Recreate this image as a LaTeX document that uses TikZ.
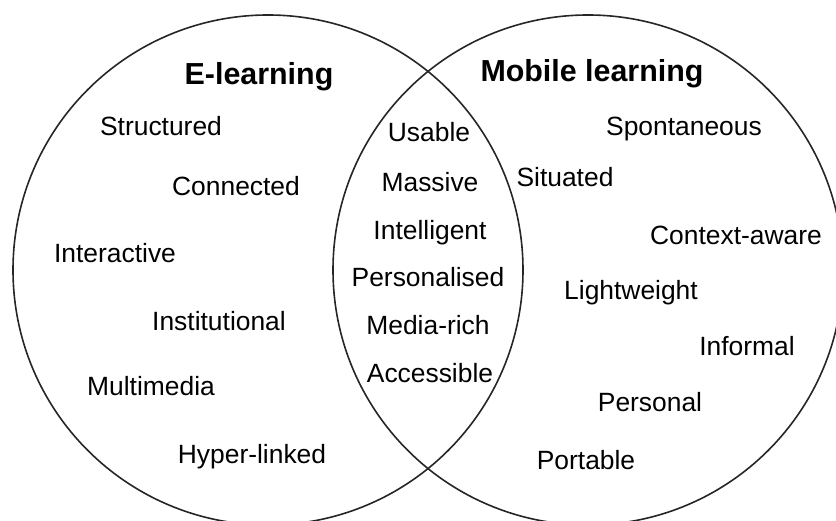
\documentclass[tikz,border=0pt]{standalone}
\usepackage{fontspec}
\setmainfont{Liberation Sans}
\begin{document}
\begin{tikzpicture}[x=1pt,y=-1pt,
  ring/.style={draw=black!85,line width=1.6pt},
  word/.style={font=\fontsize{26.4}{31}\selectfont,anchor=base,inner sep=0pt},
  title/.style={font=\fontsize{30.4}{36}\selectfont\bfseries,anchor=base,inner sep=0pt}]
\useasboundingbox (0,0) rectangle (836,521);
\begin{scope}
\clip (0,0) rectangle (836,521);
\draw[ring] (268,270) circle[radius=255];
\draw[ring] (588,270) circle[radius=255];
\end{scope}
\node[title] (el) at (259,85) {E-learning};
\node[title] (ml) at (592,82) {Mobile learning};
% left
\node[word] (a1) at (161,136) {Structured};
\node[word] (a2) at (236,196) {Connected};
\node[word] (a3) at (115,263) {Interactive};
\node[word] (a4) at (219,331) {Institutional};
\node[word] (a5) at (151,396) {Multimedia};
\node[word] (a6) at (252,464) {Hyper-linked};
% middle
\node[word] (b1) at (429,142) {Usable};
\node[word] (b2) at (430,192) {Massive};
\node[word] (b3) at (430,240) {Intelligent};
\node[word] (b4) at (428,287) {Personalised};
\node[word] (b5) at (428,335) {Media-rich};
\node[word] (b6) at (430,383) {Accessible};
% right
\node[word] (c1) at (684,136) {Spontaneous};
\node[word] (c2) at (565,187) {Situated};
\node[word] (c3) at (736,245) {Context-aware};
\node[word] (c4) at (631,300) {Lightweight};
\node[word] (c5) at (747,356) {Informal};
\node[word] (c6) at (650,412) {Personal};
\node[word] (c7) at (586,469) {Portable};
\end{tikzpicture}
\end{document}
